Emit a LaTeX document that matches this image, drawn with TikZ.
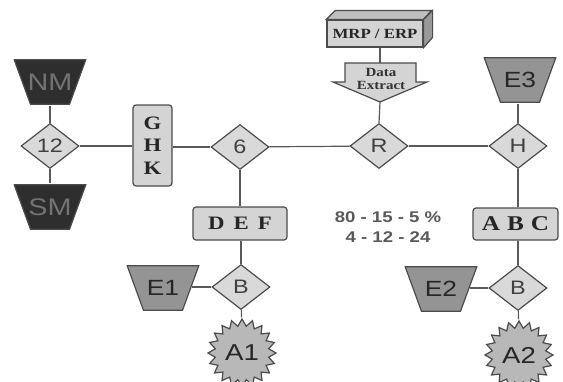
\documentclass[tikz,border=0pt]{standalone}
\usepackage{fontspec}
\setmainfont{Liberation Serif}[FakeStretch=1.2]
\setsansfont{Liberation Sans}[FakeStretch=1.2]
\usetikzlibrary{shapes.geometric}
\begin{document}
\begin{tikzpicture}[x=1pt, y=-1pt, line width=1.2pt,
      link/.style={draw=black!65},
      dia/.style={shape=diamond, draw=black!70, fill=black!15, minimum width=58pt, minimum height=45pt, inner sep=0pt, font=\sffamily\fontsize{19.5}{19.5}\selectfont, text=black!75},
      box/.style={shape=rectangle, rounded corners=3pt, draw=black!70, fill=black!17, inner sep=0pt, align=center, font=\bfseries\fontsize{19}{22.5}\selectfont, text=black!85},
      trap/.style={shape=rectangle, minimum width=73pt, minimum height=46pt, inner sep=0pt, font=\sffamily\fontsize{22}{22}\selectfont, text=black!85,
        path picture={\draw[draw=black!70, fill=#1] ([shift={(0.7,0.7)}]path picture bounding box.north west) -- ([shift={(-0.7,0.7)}]path picture bounding box.north east) -- ([shift={(-17,-0.7)}]path picture bounding box.south east) -- ([shift={(17,-0.7)}]path picture bounding box.south west) -- cycle;}},
      trap/.default=black!42,
      dark/.style={trap=black!82, text=black!55, font=\sffamily\fontsize{24}{24}\selectfont},
      burst/.style={shape=circle, minimum size=70pt, inner sep=0pt, font=\sffamily\fontsize{23}{23}\selectfont, text=black!85,
        path picture={\draw[draw=black!70, fill=black!28] ([shift={(90:34)}]path picture bounding box.center) \foreach \k in {1,...,39} { -- ([shift={(90+\k*9:{34-7*mod(\k,2)})}]path picture bounding box.center)} -- cycle;}}]
    \useasboundingbox[fill=white] (0,0) rectangle (563,381);
    % left part
    \node[dark] (nm) at (50,82) {NM};
    \node[dia] (d12) at (50,146) {12};
    \node[dark] (sm) at (50,207) {SM};
    \node[box, minimum width=39pt, minimum height=81pt] (ghk) at (152.5,145.5) {G\\H\\K};
    \node[dia] (d6) at (240,147) {6};
    \node[box, minimum width=94pt, minimum height=33pt] (def) at (240,223.5) {D\hspace{9pt}E\hspace{9pt}F};
    \node[dia] (bl) at (241,287) {B};
    \node[trap] (e1) at (163,288) {E1};
    \node[burst] (a1) at (242,353) {A1};
    % data source
    \node[box, rounded corners=0pt, minimum width=96pt, minimum height=27pt, font=\bfseries\fontsize{14}{14}\selectfont] (mrp) at (375,33.5) {MRP / ERP};
    \draw[draw=black!70, fill=black!25] (mrp.north west) -- ++(9,-9) -- ++(96,0) -- (mrp.north east) -- cycle;
    \draw[draw=black!70, fill=black!40] (mrp.north east) -- ++(9,-9) -- ++(0,27) -- (mrp.south east) -- cycle;
    \draw[draw=black!70, fill=black!17] (345,63) -- (416,63) -- (416,82) -- (427,82) -- (380,102) -- (333,82) -- (345,82) -- cycle;
    \coordinate (dxtop) at (380,63);
    \coordinate (dxtip) at (380,102);
    \node[font=\bfseries\fontsize{12.5}{13}\selectfont, text=black!80, align=center, inner sep=0pt] (dx) at (381,79) {Data\\Extract};
    \node[dia] (r) at (379,146) {R};
    \node[font=\sffamily\bfseries\fontsize{15.5}{20}\selectfont, text=black!65, align=center] (stats) at (388,227) {80 - 15 - 5 \%\\4 - 12 - 24};
    % right part
    \node[trap] (e3) at (520,80) {E3};
    \node[dia] (h) at (518,146) {H};
    \node[box, minimum width=85pt, minimum height=32pt, font=\bfseries\fontsize{21}{21}\selectfont] (abc) at (515.5,224) {A\hspace{7pt}B\hspace{7pt}C};
    \node[dia] (br) at (518,288) {B};
    \node[trap] (e2) at (441,289) {E2};
    \node[burst] (a2) at (519,355) {A2};
    % connectors
    \draw[link] (nm) -- (d12);
    \draw[link] (d12) -- (sm);
    \draw[link] (d12.east) -- (d12.east -| ghk.west);
    \draw[link] (d6.west -| ghk.east) -- (d6.west);
    \draw[link] (d6) -- (r);
    \draw[link] (r) -- (h);
    \draw[link] (d6) -- (def);
    \draw[link] (def.south -| bl.north) -- (bl.north);
    \draw[link] (bl.west) -- ([xshift=-8.5pt]bl.west -| e1.east);
    \draw[link] (bl) -- (a1);
    \draw[link] (dxtop |- mrp.south) -- (dxtop);
    \draw[link] (dxtip) -- (r.north);
    \draw[link] (h.north) -- (h.north |- e3.south);
    \draw[link] (h.south) -- (h.south |- abc.north);
    \draw[link] (br.north |- abc.south) -- (br.north);
    \draw[link] (br.west) -- ([xshift=-8.5pt]br.west -| e2.east);
    \draw[link] (br) -- (a2);
\end{tikzpicture}
\end{document}
